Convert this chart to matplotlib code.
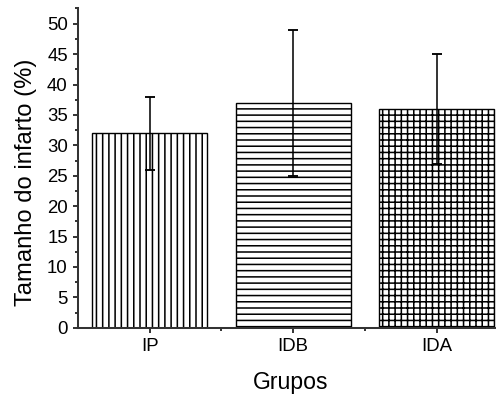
import numpy as np
import matplotlib.pyplot as plt
from matplotlib.ticker import MultipleLocator, FixedLocator

plt.rcParams['font.family'] = ['Liberation Sans', 'DejaVu Sans']
plt.rcParams['hatch.linewidth'] = 1.0

grupos = ['IP', 'IDB', 'IDA']
tamanho = [32, 37, 36]
erro = [6, 12, 9]
hatches = ['|||', '---', '+++']

dpi = 112
fig = plt.figure(figsize=(496 / dpi, 394 / dpi), dpi=dpi)
ax = fig.add_axes([0.157, 0.168, 0.843, 0.812])

x = np.arange(1, len(grupos) + 1)
for xi, v, e, h in zip(x, tamanho, erro, hatches):
    ax.bar(xi, v, width=0.8, color='white', edgecolor='black',
           linewidth=0.9, hatch=h, zorder=2)
    ax.errorbar(xi, v, yerr=e, fmt='none', ecolor='black', elinewidth=1.0,
                capsize=3, capthick=1.2, zorder=3)

ax.set_xlim(0.5, 3.413)
ax.set_ylim(0, 52.6)
ax.set_xticks(x)
ax.set_xticklabels(grupos)
ax.xaxis.set_minor_locator(FixedLocator([1.5, 2.5]))
ax.yaxis.set_major_locator(MultipleLocator(5))
ax.yaxis.set_minor_locator(MultipleLocator(2.5))

for s in ['top', 'right']:
    ax.spines[s].set_visible(False)
for s in ['left', 'bottom']:
    ax.spines[s].set_linewidth(1.3)
    ax.spines[s].set_color('#333333')

ax.tick_params(axis='both', which='major', direction='out', length=3.5,
               width=1.0, labelsize=12)
ax.tick_params(axis='x', which='major', pad=3)
ax.tick_params(axis='y', which='major', pad=3)
ax.tick_params(axis='both', which='minor', direction='out', length=2,
               width=1.0)

ax.set_xlabel('Grupos', fontsize=14.8)
ax.set_ylabel('Tamanho do infarto (%)', fontsize=15.3)
ax.xaxis.set_label_coords(0.51, -0.135)
ax.yaxis.set_label_coords(-0.097, 0.455)

fig.savefig('out.png', dpi=dpi)
